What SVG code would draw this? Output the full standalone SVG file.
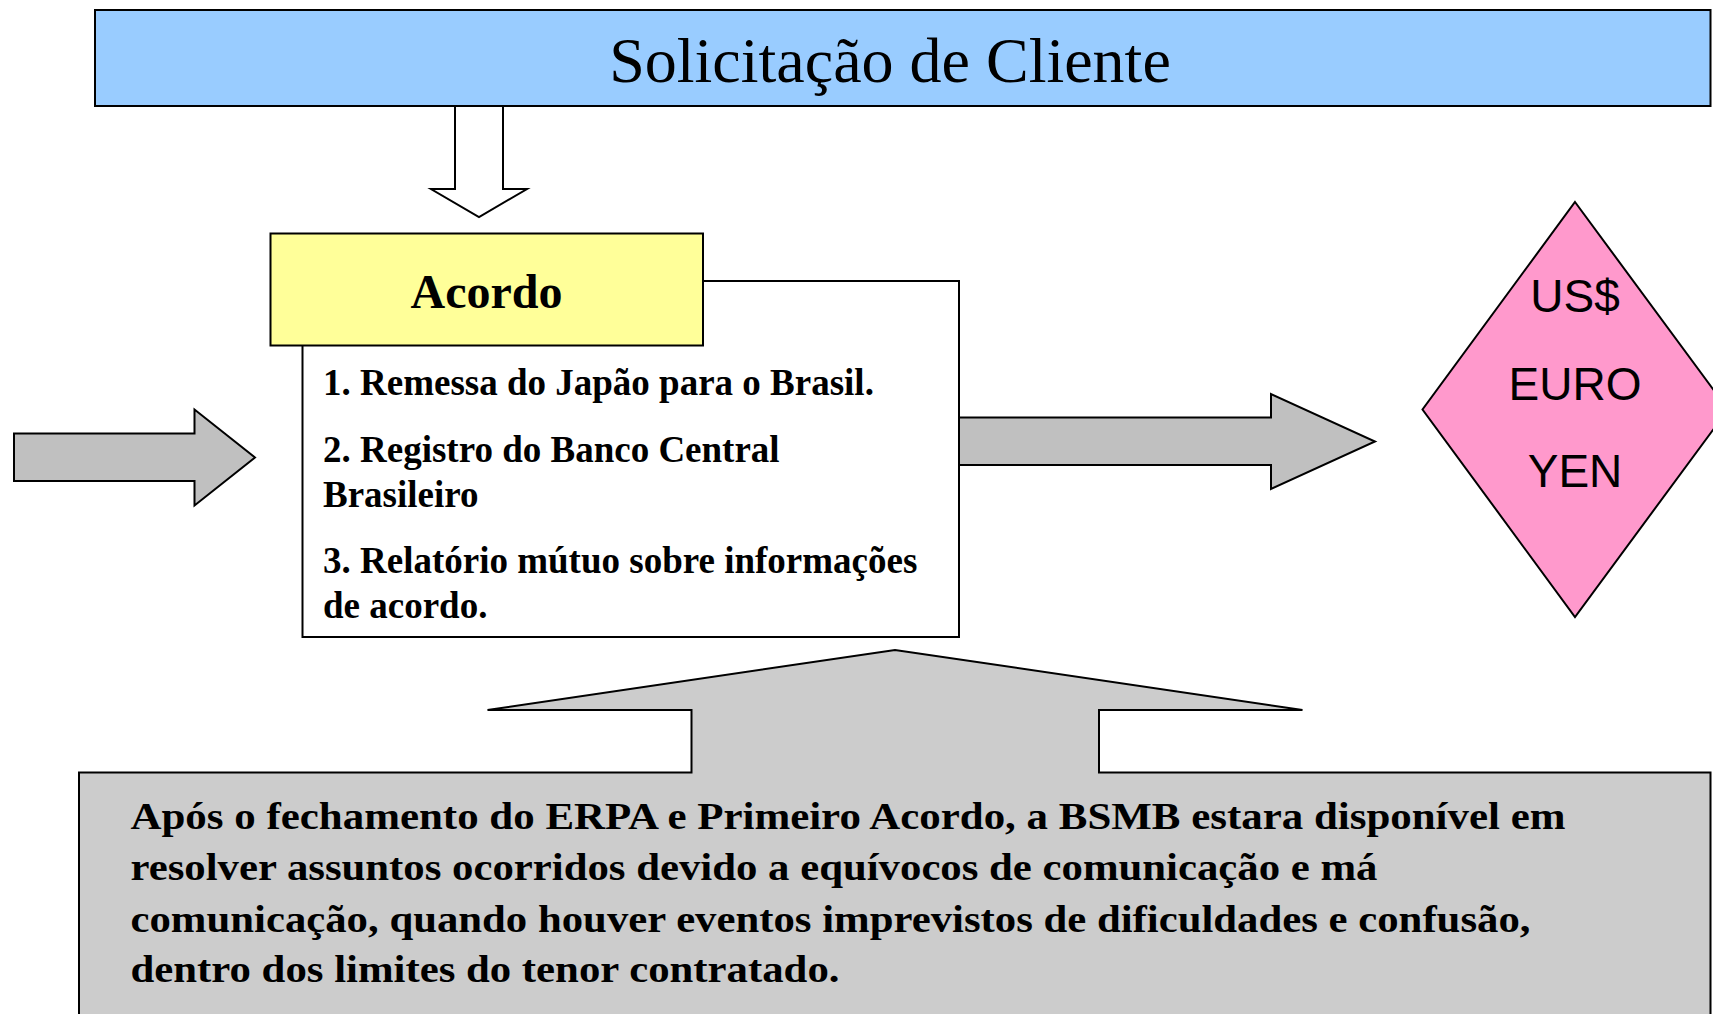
<svg xmlns="http://www.w3.org/2000/svg" width="1713" height="1014" viewBox="0 0 1713 1014">
<style>
.ln{stroke:#000;stroke-width:2;stroke-linejoin:miter}
.serif{font-family:"Liberation Serif","Times New Roman",serif;fill:#000}
.sans{font-family:"Liberation Sans",Arial,sans-serif;fill:#000}
.b{font-weight:bold}
.arrow{fill:#C0C0C0}
</style>
<rect width="1713" height="1014" fill="#fff"/>
<g id="connectors">
  <polygon id="arrow-down" class="ln" fill="#fff" points="455,106 455,189 431,189 479,217 527,189 503,189 503,106"/>
  <polygon id="arrow-in" class="ln arrow" points="14,433.5 194.5,433.5 194.5,409.5 255,457.5 194.5,505.5 194.5,481 14,481"/>
  <polygon id="arrow-out" class="ln arrow" points="959,417.5 1271,417.5 1271,394 1375,441.5 1271,489 1271,465 959,465"/>
</g>
<g id="solicitacao">
  <rect class="ln" x="95" y="10" width="1615.5" height="96" fill="#99CCFF"/>
  <text class="serif" x="890" y="82" font-size="64" text-anchor="middle">Solicitação de Cliente</text>
</g>
<g id="acordo-lista">
  <rect class="ln" x="302.5" y="281" width="656.5" height="356" fill="#fff"/>
  <g class="serif b" font-size="37">
    <text x="323" y="395">1. Remessa do Japão para o Brasil.</text>
    <text x="323" y="462">2. Registro do Banco Central</text>
    <text x="323" y="507">Brasileiro</text>
    <text x="323" y="573">3. Relatório mútuo sobre informações</text>
    <text x="323" y="618">de acordo.</text>
  </g>
</g>
<g id="acordo">
  <rect class="ln" x="270.5" y="233.5" width="432.5" height="112" fill="#FFFF99"/>
  <text class="serif b" x="486.5" y="307.5" font-size="48" text-anchor="middle">Acordo</text>
</g>
<g id="moedas">
  <polygon class="ln" fill="#FF99CC" points="1575,202 1728,409.5 1575,617 1422.5,409.5"/>
  <g class="sans" font-size="46" text-anchor="middle">
    <text x="1575" y="312">US$</text>
    <text x="1575" y="400">EURO</text>
    <text x="1575" y="486.5">YEN</text>
  </g>
</g>
<g id="nota">
  <polygon class="ln" fill="#CCCCCC" points="79,772.5 691.5,772.5 691.5,710 487.5,710 895,650 1302.5,710 1099,710 1099,772.5 1710.5,772.5 1710.5,1016 79,1016"/>
  <g class="serif b" font-size="38">
    <text x="130.5" y="828.5" textLength="1435" lengthAdjust="spacingAndGlyphs">Após o fechamento do ERPA e Primeiro Acordo, a BSMB estara disponível em</text>
    <text x="130.5" y="880" textLength="1247" lengthAdjust="spacingAndGlyphs">resolver assuntos ocorridos devido a equívocos de comunicação e má</text>
    <text x="130.5" y="931.5" textLength="1400" lengthAdjust="spacingAndGlyphs">comunicação, quando houver eventos imprevistos de dificuldades e confusão,</text>
    <text x="130.5" y="982" textLength="709" lengthAdjust="spacingAndGlyphs">dentro dos limites do tenor contratado.</text>
  </g>
</g>
</svg>
